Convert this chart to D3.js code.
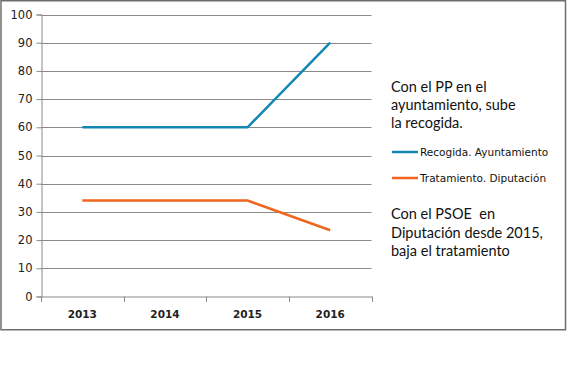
<!DOCTYPE html>
<html><head><meta charset="utf-8">
<script src="https://cdnjs.cloudflare.com/ajax/libs/d3/7.8.5/d3.min.js"></script>
<style>body{margin:0;background:#fff}svg{display:block}</style>
</head><body><svg id="c" width="567" height="369"></svg>
<script>
const years = ["2013","2014","2015","2016"];
const recogida = [60,60,60,90];
const tratamiento = [34,34,34,23.5];
const yTicks = [0,10,20,30,40,50,60,70,80,90,100];
const seriesNames = ["Recogida. Ayuntamiento","Tratamiento. Diputación"];
const seriesColors = ["#1287b3","#f0661e"];
const note1 = ["Con el PP en el","ayuntamiento, sube","la recogida."];
const note2 = ["Con el PSOE  en","Diputación desde 2015,","baja el tratamiento"];

const svg = d3.select("#c");
svg.append("rect").attr("x",1).attr("y",0.75).attr("width",564.5).attr("height",329)
  .attr("fill","#fff").attr("stroke","#6e6e6e").attr("stroke-width",1.5);

const x = d3.scaleBand().domain(years).range([41,371.5]);
const y = d3.scaleLinear().domain([0,100]).range([296.5,14.5]);
const grid = "#8a8a8a";

const g = svg.append("g");
// gridlines
g.selectAll(".gl").data(yTicks.filter(d=>d>0)).join("line")
  .attr("x1",41).attr("x2",371.5).attr("y1",d=>Math.round(y(d))+0.5).attr("y2",d=>Math.round(y(d))+0.5)
  .attr("stroke",grid).attr("stroke-width",1);
// y axis
const yAx = g.append("g").attr("transform","translate(41.5,0)")
  .call(d3.axisLeft(y).tickValues(yTicks).tickSize(5).tickPadding(4));
yAx.select(".domain").attr("stroke",grid);
yAx.selectAll(".tick line").attr("stroke",grid);
yAx.selectAll(".tick text").attr("font-family","DejaVu Sans").attr("font-size","11.5px").attr("fill","#222");
// x axis
const xAx = g.append("g").attr("transform","translate(0,296.5)")
  .call(d3.axisBottom(x).tickSize(0).tickPadding(14));
xAx.select(".domain").attr("stroke",grid);
xAx.selectAll(".tick text").attr("font-family","DejaVu Sans").attr("font-size","10.5px").attr("fill","#222").attr("font-weight","bold");
const bounds = years.map(d=>x(d)).concat([x.range()[1]]);
g.selectAll(".xt").data(bounds).join("line")
  .attr("x1",d=>Math.round(d)+0.5).attr("x2",d=>Math.round(d)+0.5).attr("y1",296.5).attr("y2",302)
  .attr("stroke",grid);

const line = d3.line().x((d,i)=>x(years[i])+x.bandwidth()/2).y(d=>y(d));
[recogida,tratamiento].forEach((s,i)=>{
  g.append("path").attr("d",line(s)).attr("fill","none")
   .attr("stroke",seriesColors[i]).attr("stroke-width",2.5);
});

// annotations
const font = "Lato, 'Open Sans', sans-serif";
svg.append("text").attr("x",391).attr("y",92).attr("font-family",font).attr("font-size","14.5px").attr("fill","#111")
  .selectAll("tspan").data(note1).join("tspan").attr("x",391).attr("dy",(d,i)=>i?18:0).text(d=>d);
svg.append("text").attr("x",391).attr("y",219).attr("font-family",font).attr("font-size","14.5px").attr("fill","#111")
  .attr("xml:space","preserve")
  .selectAll("tspan").data(note2).join("tspan").attr("x",391).attr("dy",(d,i)=>i?18.5:0).text(d=>d);

// legend
const lg = svg.append("g");
seriesNames.forEach((n,i)=>{
  const ly = 152 + i*26;
  lg.append("line").attr("x1",392).attr("x2",418).attr("y1",ly).attr("y2",ly)
    .attr("stroke",seriesColors[i]).attr("stroke-width",2.5);
  lg.append("text").attr("x",420).attr("y",ly+4).attr("font-family","DejaVu Sans")
    .attr("font-size","10.5px").attr("fill","#111").text(n);
});
</script></body></html>
